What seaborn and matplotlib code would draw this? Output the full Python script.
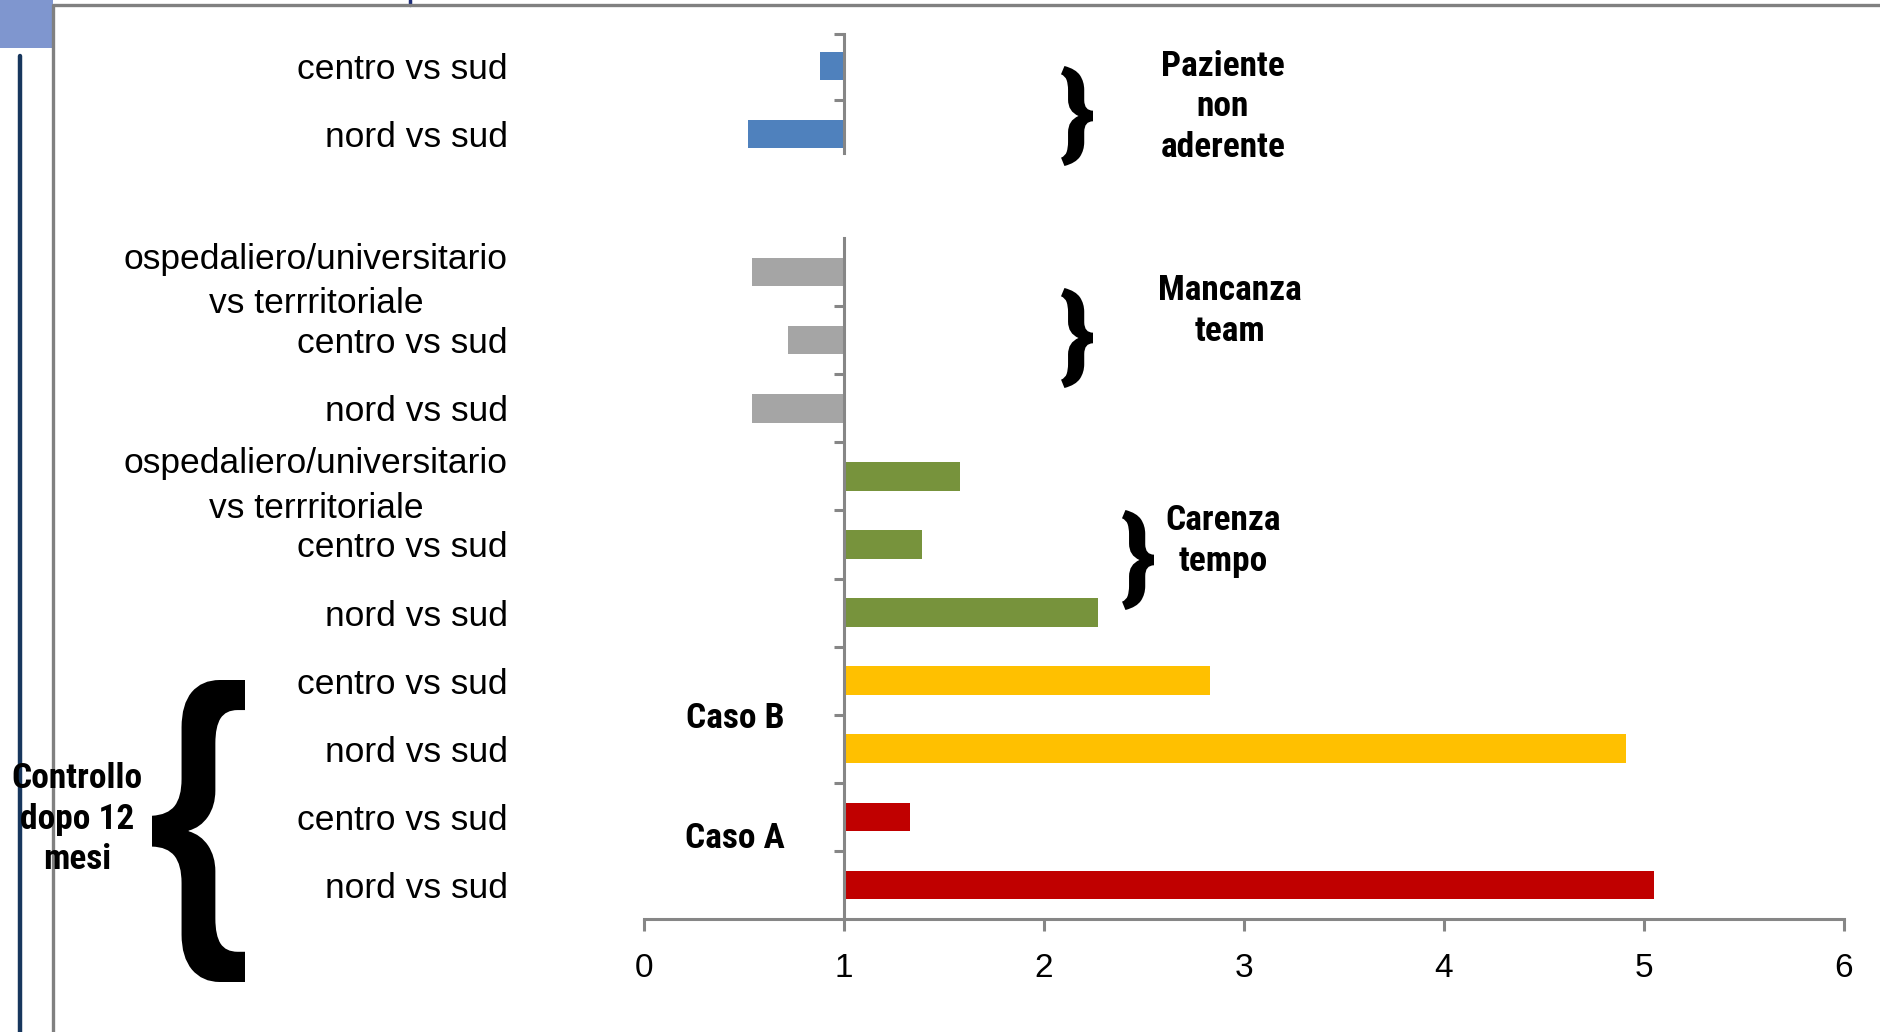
import matplotlib
matplotlib.use("Agg")
import numpy as np
import pandas as pd
import matplotlib.pyplot as plt
import seaborn as sns
from matplotlib import font_manager
from matplotlib.font_manager import FontProperties
from matplotlib.textpath import TextPath
from matplotlib.patches import PathPatch, Rectangle
from matplotlib.lines import Line2D
from matplotlib.transforms import Affine2D
from matplotlib.ticker import FixedLocator

# ---- data -------------------------------------------------------------
paziente_labels = ["centro vs sud", "nord vs sud"]
paziente_values = [0.88, 0.52]

team_labels = ["ospedaliero/universitario\nvs terrritoriale", "centro vs sud", "nord vs sud"]
team_values = [0.54, 0.72, 0.54]

tempo_labels = ["ospedaliero/universitario\nvs terrritoriale", "centro vs sud", "nord vs sud"]
tempo_values = [1.58, 1.39, 2.27]

caso_b_labels = ["centro vs sud", "nord vs sud"]
caso_b_values = [2.83, 4.91]

caso_a_labels = ["centro vs sud", "nord vs sud"]
caso_a_values = [1.33, 5.05]

x_ticks = [0, 1, 2, 3, 4, 5, 6]
baseline = 1.0

group_colors = {
    "paziente": "#4F81BD",
    "team": "#A5A5A5",
    "tempo": "#77933C",
    "caso_b": "#FFC000",
    "caso_a": "#C00000",
}

# ---- fonts ------------------------------------------------------------
def pick_font(candidates):
    for name in candidates:
        try:
            font_manager.findfont(FontProperties(family=name), fallback_to_default=False)
            return name
        except Exception:
            continue
    return "DejaVu Sans"

sns.set_theme(style="white")
label_font = pick_font(["Liberation Sans", "Arial", "DejaVu Sans"])
bold_font = pick_font(["Liberation Sans Narrow", "Roboto Condensed", "Liberation Sans"])
plt.rcParams["font.family"] = [label_font, "DejaVu Sans"]

AX_COLOR = "#868686"
W, H = 1881, 1032
fig = plt.figure(figsize=(W / 100, H / 100), dpi=100)
fig.patch.set_facecolor("white")


def frac(x, y):
    return x / W, 1 - y / H


def make_axes(left, top, right, bottom):
    x0, y1 = frac(left, top)
    x1, y0 = frac(right, bottom)
    return fig.add_axes([x0, y0, x1 - x0, y1 - y0])


def build_frame(parts):
    rows = []
    slot = 0
    for group, labels, values in parts:
        for lab, val in zip(labels, values):
            rows.append({"slot": f"s{slot}", "label": lab, "value": val,
                         "span": val - baseline, "group": group})
            slot += 1
    return pd.DataFrame(rows)


def draw_bars(ax, df):
    sns.barplot(data=df, y="slot", x="span", hue="group", palette=group_colors,
                order=list(df["slot"]), hue_order=list(dict.fromkeys(df["group"])),
                orient="h", dodge=False, saturation=1, width=0.42, errorbar=None,
                legend=False, left=baseline, linewidth=0, ax=ax)
    ax.set_xlim(x_ticks[0], x_ticks[-1])
    ax.set_xlabel("")
    ax.set_ylabel("")
    ax.set_facecolor("none")
    for side in ["top", "right"]:
        ax.spines[side].set_visible(False)
    ax.spines["left"].set_position(("data", baseline))
    ax.spines["left"].set_color(AX_COLOR)
    ax.spines["left"].set_linewidth(2.2)
    ax.set_yticks(range(len(df)))
    ax.set_yticklabels(list(df["label"]))
    for t in ax.get_yticklabels():
        t.set_multialignment("center")
        t.set_fontsize(25.5)
        t.set_linespacing(1.45)
        t.set_color("black")
    ax.tick_params(axis="y", which="major", length=0, pad=242)
    ax.tick_params(axis="y", which="minor", left=True, length=7.5, width=2.2,
                   color=AX_COLOR, direction="out")


# ---- upper panel: patient adherence ---------------------------------
top_df = build_frame([("paziente", paziente_labels, paziente_values)])
ax_top = make_axes(644, 34, 1844, 153)
draw_bars(ax_top, top_df)
ax_top.set_ylim(1.28, -0.47)
ax_top.spines["bottom"].set_visible(False)
ax_top.set_xticks([])
ax_top.yaxis.set_minor_locator(FixedLocator([-0.47, 0.5]))

# ---- lower panel ------------------------------------------------------
bot_df = build_frame([
    ("team", team_labels, team_values),
    ("tempo", tempo_labels, tempo_values),
    ("caso_b", caso_b_labels, caso_b_values),
    ("caso_a", caso_a_labels, caso_a_values),
])
ax_bot = make_axes(644, 238, 1844, 919)
draw_bars(ax_bot, bot_df)
ax_bot.set_ylim(len(bot_df) - 0.5, -0.5)
ax_bot.yaxis.set_minor_locator(FixedLocator(np.arange(0.5, len(bot_df) - 1, 1.0)))
ax_bot.spines["bottom"].set_color(AX_COLOR)
ax_bot.spines["bottom"].set_linewidth(2.2)
ax_bot.set_xticks(x_ticks)
ax_bot.set_xticklabels([str(v) for v in x_ticks])
ax_bot.tick_params(axis="x", bottom=True, length=8.5, width=2.2, color=AX_COLOR,
                   direction="out", pad=16, labelsize=24, labelcolor="black")

# ---- annotations ------------------------------------------------------
def note(x, y, s):
    fx, fy = frac(x, y)
    fig.text(fx, fy, s, ha="center", va="center", ma="center", fontsize=25.5,
             fontweight="bold", family=[bold_font, "DejaVu Sans"], linespacing=1.3,
             color="black")

note(1223, 107, "Paziente\nnon\naderente")
note(1230, 311, "Mancanza\nteam")
note(1223, 541, "Carenza\ntempo")
note(77, 819, "Controllo\ndopo 12\nmesi")
note(735, 718, "Caso B")
note(735, 839, "Caso A")


def brace(char, left, top, right, bottom, family, weight):
    tp = TextPath((0, 0), char, size=100, prop=FontProperties(family=family, weight=weight))
    ext = tp.get_extents()
    sx = (right - left) / ext.width
    sy = (bottom - top) / ext.height
    tr = (Affine2D().translate(-ext.x0, -ext.y0).scale(sx, sy)
          .translate(left, H - bottom).scale(1 / W, 1 / H) + fig.transFigure)
    fig.add_artist(PathPatch(tp, transform=tr, facecolor="black", edgecolor="none"))

brace("}", 1061, 66, 1093, 166, bold_font, "bold")
brace("}", 1061, 288, 1093, 388, bold_font, "bold")
brace("}", 1122, 510, 1154, 610, bold_font, "bold")
brace("{", 152, 680, 245, 982, label_font, "bold")

# ---- page furniture ---------------------------------------------------
fig.add_artist(Rectangle(frac(0, 48), 53 / W, 48 / H, transform=fig.transFigure,
                         facecolor="#7F96CF", edgecolor="none", zorder=0))
fig.add_artist(Line2D([20 / W, 20 / W], [1 - 56 / H, 0], transform=fig.transFigure,
                      color="#17365D", lw=3.2))
fig.add_artist(Line2D([410 / W, 410 / W], [1, 1 - 5 / H], transform=fig.transFigure,
                      color="#1F2F7A", lw=2.5))
fig.add_artist(Line2D([53 / W, 53 / W, 1], [0, 1 - 5 / H, 1 - 5 / H],
                      transform=fig.transFigure, color="#808080", lw=2.4))

fig.savefig("out.png", dpi=100)
